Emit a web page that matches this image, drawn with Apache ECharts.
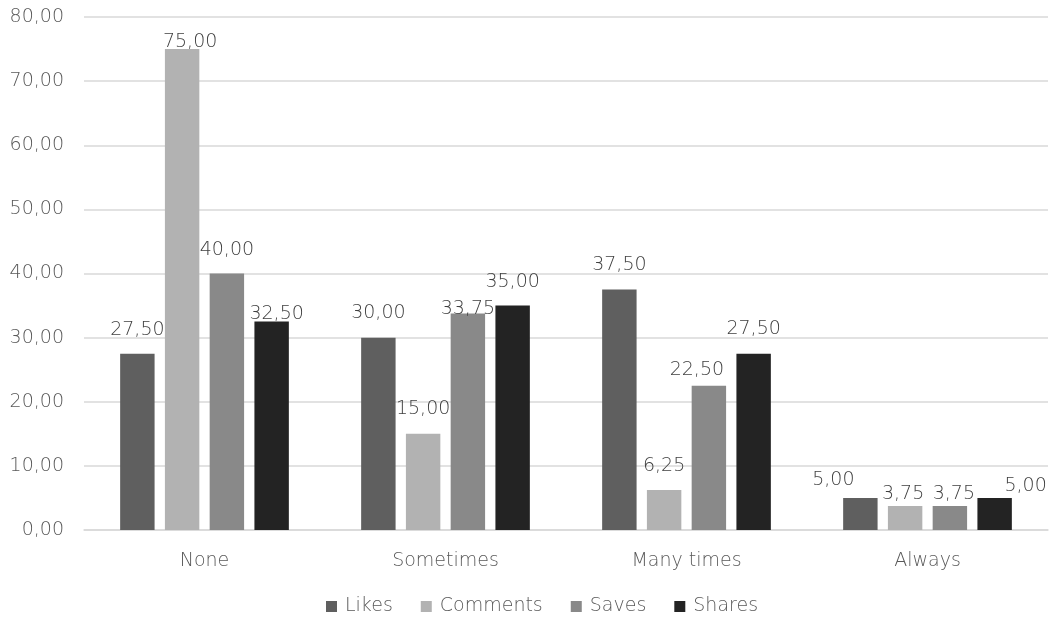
<!DOCTYPE html>
<html>
<head>
<meta charset="utf-8">
<script src="https://cdn.jsdelivr.net/npm/echarts@6/dist/echarts.min.js"></script>
<style>
  html, body { margin: 0; padding: 0; background: #fff; }
  #chart { width: 1064px; height: 621px; }
</style>
</head>
<body>
<div id="chart"></div>
<script>
// Frequency categories on the x axis
const categories = ['None', 'Sometimes', 'Many times', 'Always'];

// Percentages per interaction type
const likes    = [27.5, 30.0, 37.5, 5.0];
const comments = [75.0, 15.0, 6.25, 3.75];
const saves    = [40.0, 33.75, 22.5, 3.75];
const shares   = [32.5, 35.0, 27.5, 5.0];

const seriesNames = ['Likes', 'Comments', 'Saves', 'Shares'];
const seriesData = [likes, comments, saves, shares];
const seriesColors = ['#5f5f5f', '#b2b2b2', '#898989', '#232323'];

// Hand-placed value labels: [horizontal shift, gap above the bar] in px
const labelPlacement = [
  [[0, 14], [0, 15], [0, 15], [-27, 8]],
  [[8, -2], [0, 15], [0, 14], [-2, 2]],
  [[0, 14], [0, -5], [-12, 6], [4, 2]],
  [[5, -2], [0, 14], [0, 15], [31, 2]]
];

const FONT = '"DejaVu Sans", sans-serif';
const WEIGHT = 200;
const SIZE = 19;
const fmt = v => Number(v).toFixed(2).replace('.', ',');

const chart = echarts.init(document.getElementById('chart'));
chart.setOption({
  animation: false,
  textStyle: { fontFamily: FONT, fontWeight: WEIGHT },
  grid: { left: 84, right: 16, top: 17, bottom: 91, containLabel: false },
  legend: {
    bottom: 0,
    left: 321,
    itemWidth: 11,
    itemHeight: 11,
    itemGap: 28,
    icon: 'rect',
    textStyle: { fontSize: SIZE, color: '#595959', fontFamily: FONT, fontWeight: WEIGHT, padding: [0, 0, 0, 3] },
    data: seriesNames
  },
  xAxis: {
    type: 'category',
    data: categories,
    axisLine: { lineStyle: { color: '#d9d9d9', width: 1.5 } },
    axisTick: { show: false },
    axisLabel: { fontSize: SIZE, color: '#595959', margin: 22, fontFamily: FONT, fontWeight: WEIGHT }
  },
  yAxis: {
    type: 'value',
    min: 0,
    max: 80,
    interval: 10,
    axisLine: { show: false },
    axisTick: { show: false },
    splitLine: { lineStyle: { color: '#d9d9d9', width: 1.5 } },
    axisLabel: { fontSize: SIZE, color: '#595959', margin: 20, fontFamily: FONT, fontWeight: WEIGHT, formatter: fmt }
  },
  series: seriesNames.map((name, i) => ({
    name,
    type: 'bar',
    barGap: '30%',
    barCategoryGap: '30%',
    itemStyle: { color: seriesColors[i] },
    label: {
      show: true,
      position: 'top',
      fontSize: SIZE,
      color: '#404040',
      fontFamily: FONT,
      fontWeight: WEIGHT,
      formatter: p => fmt(p.value)
    },
    data: seriesData[i].map((v, j) => ({
      value: v,
      label: {
        distance: labelPlacement[i][j][1],
        offset: [labelPlacement[i][j][0], 0]
      }
    }))
  }))
});
</script>
</body>
</html>
